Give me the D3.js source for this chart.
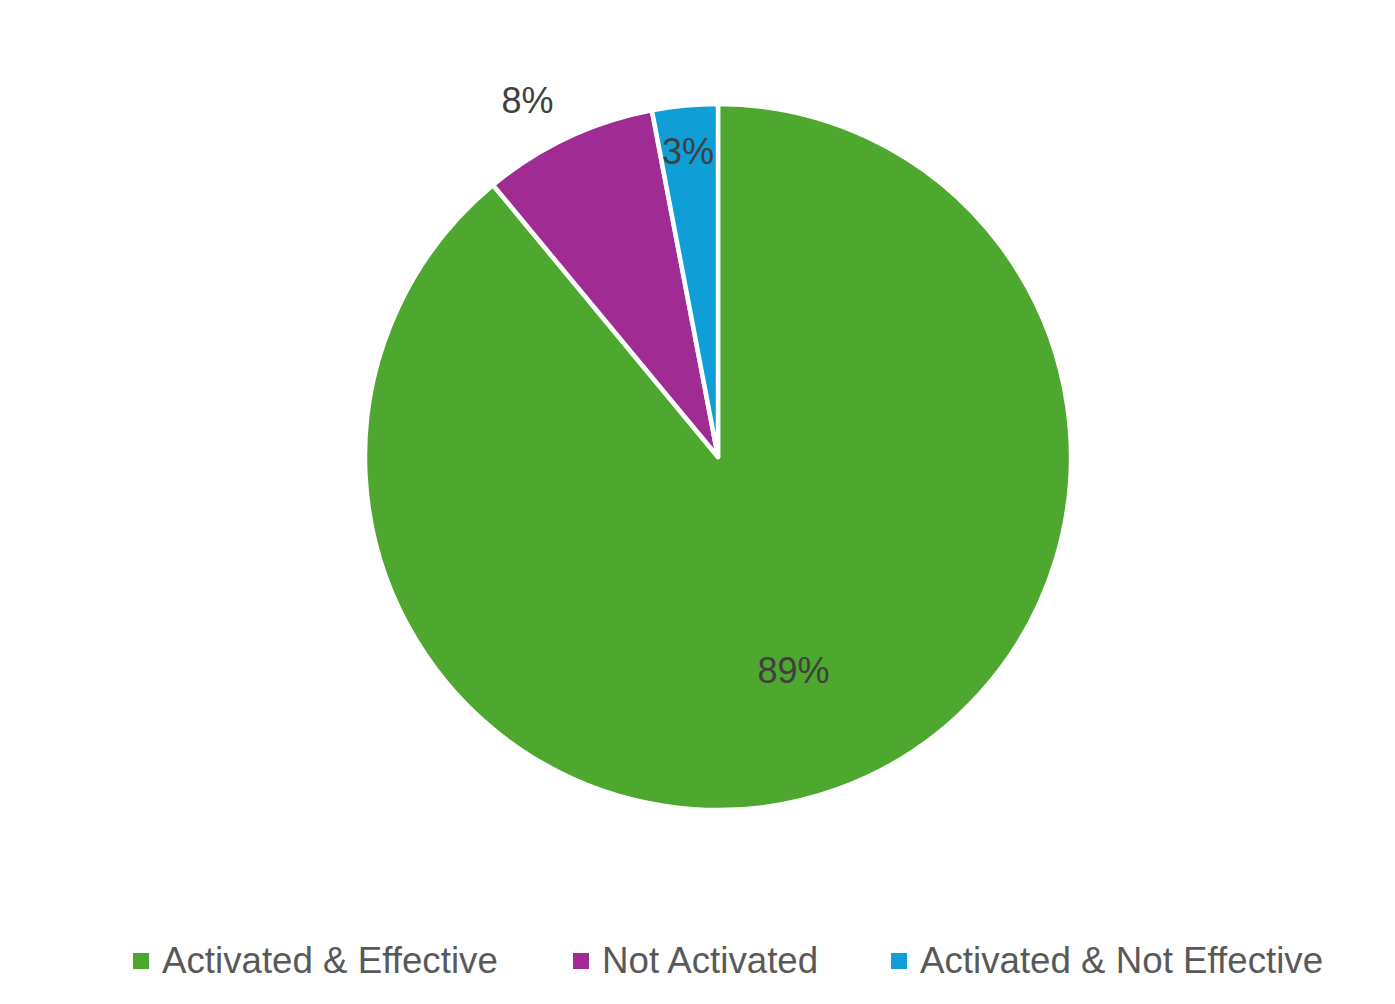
<!DOCTYPE html>
<html><head><meta charset="utf-8">
<script src="https://cdn.jsdelivr.net/npm/d3@7/dist/d3.min.js"></script>
<style>body{margin:0;background:#fff}</style>
</head><body>
<svg id="chart" width="1395" height="1004"></svg>
<script>
const categories = ["Activated & Effective", "Not Activated", "Activated & Not Effective"];
const values = [89, 8, 3];
const colors = ["#4EA72E", "#A02B93", "#0F9ED5"];
const labels = ["89%", "8%", "3%"];

const svg = d3.select("#chart");
const cx = 718, cy = 457, r = 353;
const font = "'Liberation Sans', Arial, sans-serif";

const pie = d3.pie().sort(null).value(d => d)(values);
const arc = d3.arc().innerRadius(0).outerRadius(r);
const g = svg.append("g").attr("transform", `translate(${cx},${cy})`);

g.selectAll("path").data(pie).enter().append("path")
  .attr("d", arc)
  .attr("fill", (d, i) => colors[i])
  .attr("stroke", "#fff")
  .attr("stroke-width", 4.5)
  .attr("stroke-linejoin", "round");

const pos = [0.64, null, 0.87];
pie.forEach((d, i) => {
  const a = (d.startAngle + d.endAngle) / 2;
  const t = g.append("text")
    .attr("font-family", font).attr("font-size", 36).attr("fill", "#404040")
    .text(labels[i]);
  if (pos[i] !== null) {
    const k = pos[i] * r;
    t.attr("x", k * Math.sin(a) - 1).attr("y", -k * Math.cos(a))
      .attr("text-anchor", "middle").attr("dy", "0.36em");
  } else {
    const k = r + 10;
    t.attr("x", k * Math.sin(a) - 10).attr("y", -k * Math.cos(a) - 16)
      .attr("text-anchor", "end");
  }
});

const legX = [133, 573, 891];
const leg = svg.append("g");
categories.forEach((c, i) => {
  leg.append("rect").attr("x", legX[i]).attr("y", 953).attr("width", 16).attr("height", 16).attr("fill", colors[i]);
  leg.append("text").attr("x", legX[i] + 29).attr("y", 973)
    .attr("font-family", font).attr("font-size", 36.7).attr("fill", "#595959").text(c);
});
</script>
</body></html>
